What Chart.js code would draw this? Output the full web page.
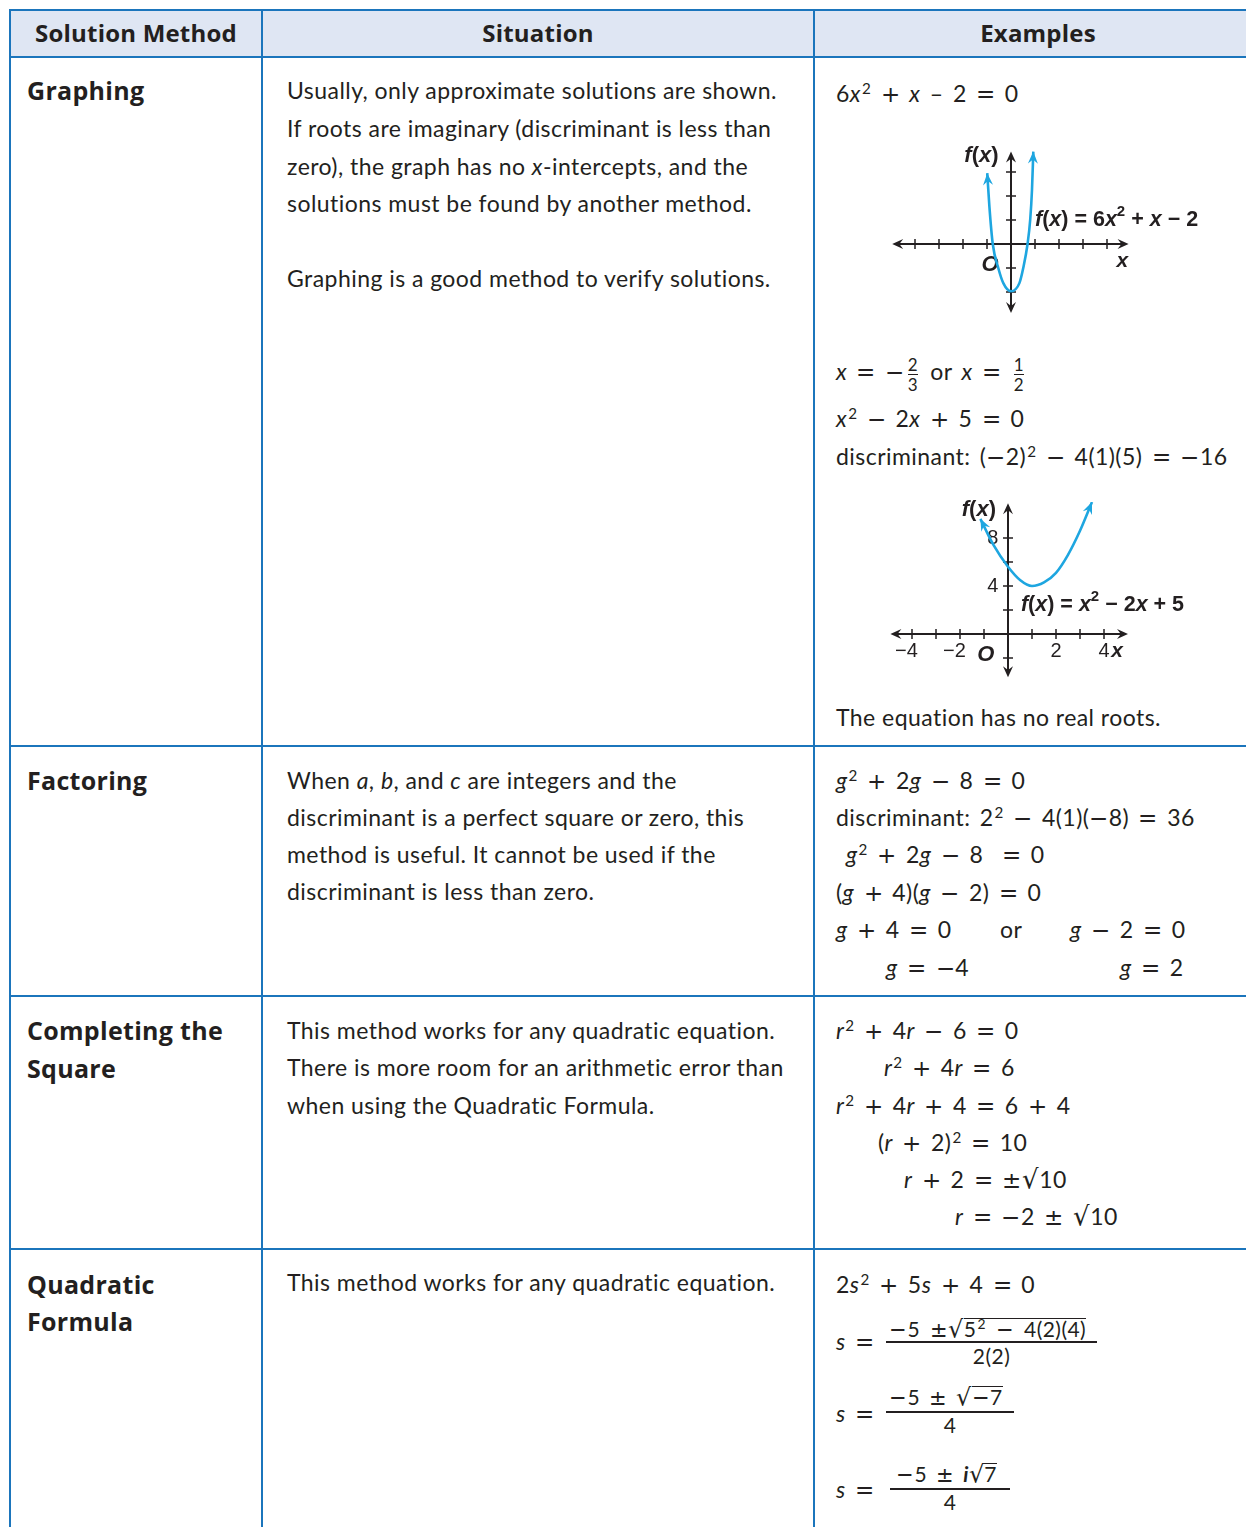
<!DOCTYPE html>
<html>
<head>
<meta charset="utf-8">
<script src="https://cdn.jsdelivr.net/npm/chart.js@4.4.1/dist/chart.umd.min.js"></script>
<style>
@font-face{font-family:'Ops';src:local('DejaVu Sans');unicode-range:U+2B,U+3D,U+2212,U+B1,U+221A;}
body{margin:0;width:1246px;height:1527px;overflow:hidden;background:#fff;position:relative;font-family:Ops,Lato,sans-serif;color:#231f20}
.hd{position:absolute;left:10px;top:10px;width:1236px;height:48px;background:#dfe6f3}
.v{position:absolute;top:9px;bottom:0;width:2px;background:#1b75bc}
.h{position:absolute;left:9px;width:1237px;height:2px;background:#1b75bc}
.t{position:absolute;white-space:nowrap;line-height:34px;font-size:23px;letter-spacing:0.45px}
.b{font-family:'Open Sans',sans-serif;font-weight:700;font-size:25px;letter-spacing:0.3px}
.th{font-family:'Open Sans',sans-serif;font-weight:700;font-size:24px;text-align:center;letter-spacing:0.2px}
.m{word-spacing:3px}
i{font-style:italic}
sup{font-size:0.66em;vertical-align:0;position:relative;top:-0.55em;margin-left:1px}
.fr{display:inline-flex;flex-direction:column;vertical-align:middle;font-size:17px;line-height:19px;text-align:center;margin:0 3px;word-spacing:0}
.fr span+span{border-top:1.5px solid #231f20}
.sq{font-size:1.12em;line-height:0}
.rad{display:inline-block;line-height:0.8em;border-top:1.5px solid #231f20;padding-top:2px}
.bar{position:absolute;height:1.5px;background:#231f20}
.gr{position:absolute}
</style>
</head>
<body>
<div class="hd"></div>
<div class="h" style="top:9px"></div>
<div class="h" style="top:56px"></div>
<div class="h" style="top:745px"></div>
<div class="h" style="top:995px"></div>
<div class="h" style="top:1248px"></div>
<div class="v" style="left:9px"></div>
<div class="v" style="left:261px"></div>
<div class="v" style="left:813px"></div>

<!-- header -->
<div class="t th" style="left:10px;width:252px;top:16px">Solution Method</div>
<div class="t th" style="left:262px;width:552px;top:16px">Situation</div>
<div class="t th" style="left:814px;width:448px;top:16px">Examples</div>

<!-- method names -->
<div class="t b" style="left:27px;top:73px">Graphing</div>
<div class="t b" style="left:27px;top:763px">Factoring</div>
<div class="t b" style="left:27px;top:1013px">Completing the</div>
<div class="t b" style="left:27px;top:1051px">Square</div>
<div class="t b" style="left:27px;top:1267px">Quadratic</div>
<div class="t b" style="left:27px;top:1304px">Formula</div>

<!-- situation -->
<div class="t" style="left:287px;top:73px">Usually, only approximate solutions are shown.</div>
<div class="t" style="left:287px;top:111px">If roots are imaginary (discriminant is less than</div>
<div class="t" style="left:287px;top:149px">zero), the graph has no <i>x</i>-intercepts, and the</div>
<div class="t" style="left:287px;top:186px">solutions must be found by another method.</div>
<div class="t" style="left:287px;top:261px">Graphing is a good method to verify solutions.</div>

<div class="t" style="left:287px;top:763px">When <i>a</i>, <i>b</i>, and <i>c</i> are integers and the</div>
<div class="t" style="left:287px;top:800px">discriminant is a perfect square or zero, this</div>
<div class="t" style="left:287px;top:837px">method is useful. It cannot be used if the</div>
<div class="t" style="left:287px;top:874px">discriminant is less than zero.</div>

<div class="t" style="left:287px;top:1013px">This method works for any quadratic equation.</div>
<div class="t" style="left:287px;top:1050px">There is more room for an arithmetic error than</div>
<div class="t" style="left:287px;top:1088px">when using the Quadratic Formula.</div>

<div class="t" style="left:287px;top:1265px">This method works for any quadratic equation.</div>

<!-- examples: graphing -->
<div class="t m" style="left:836px;top:76px">6<i>x</i><sup>2</sup> + <i>x</i> – 2 = 0</div>
<div class="gr" style="left:880px;top:140px;width:330px;height:190px"><canvas id="g1" width="330" height="190"></canvas></div>
<div class="t m" style="left:836px;top:354px"><i>x</i> = −<span class="fr"><span>2</span><span>3</span></span> or <i>x</i> = <span class="fr"><span>1</span><span>2</span></span></div>
<div class="t m" style="left:836px;top:401px"><i>x</i><sup>2</sup> − 2<i>x</i> + 5 = 0</div>
<div class="t m" style="left:836px;top:439px">discriminant: (−2)<sup>2</sup> − 4(1)(5) = −16</div>
<div class="gr" style="left:880px;top:490px;width:330px;height:200px"><canvas id="g2" width="330" height="200"></canvas></div>
<div class="t" style="left:836px;top:700px">The equation has no real roots.</div>

<!-- examples: factoring -->
<div class="t m" style="left:836px;top:763px"><i>g</i><sup>2</sup> + 2<i>g</i> − 8 = 0</div>
<div class="t m" style="left:836px;top:800px">discriminant: 2<sup>2</sup> − 4(1)(−8) = 36</div>
<div class="t m" style="left:846px;top:837px"><i>g</i><sup>2</sup> + 2<i>g</i> − 8 &nbsp;= 0</div>
<div class="t m" style="left:836px;top:875px">(<i>g</i> + 4)(<i>g</i> − 2) = 0</div>
<div class="t m" style="left:836px;top:912px"><i>g</i> + 4 = 0</div>
<div class="t" style="left:1000px;top:912px">or</div>
<div class="t m" style="left:1070px;top:912px"><i>g</i> − 2 = 0</div>
<div class="t m" style="left:886px;top:950px"><i>g</i> = −4</div>
<div class="t m" style="left:1120px;top:950px"><i>g</i> = 2</div>

<!-- examples: completing the square -->
<div class="t m" style="left:836px;top:1013px"><i>r</i><sup>2</sup> + 4<i>r</i> − 6 = 0</div>
<div class="t m" style="left:884px;top:1050px"><i>r</i><sup>2</sup> + 4<i>r</i> = 6</div>
<div class="t m" style="left:836px;top:1088px"><i>r</i><sup>2</sup> + 4<i>r</i> + 4 = 6 + 4</div>
<div class="t m" style="left:878px;top:1125px">(<i>r</i> + 2)<sup>2</sup> = 10</div>
<div class="t m" style="left:904px;top:1162px"><i>r</i> + 2 = ±<span class="sq">√</span>10</div>
<div class="t m" style="left:955px;top:1199px"><i>r</i> = −2 ± <span class="sq">√</span>10</div>

<!-- examples: quadratic formula -->
<div class="t m" style="left:836px;top:1267px">2<i>s</i><sup>2</sup> + 5<i>s</i> + 4 = 0</div>
<div class="t m" style="left:836px;top:1324px"><i>s</i> =</div>
<div class="t m" style="left:889px;top:1312px;font-size:21px;word-spacing:4px">−5 ±<span class="sq">√</span><span class="rad">5<sup>2</sup> − 4(2)(4)</span></div>
<div class="bar" style="left:886px;top:1341px;width:211px"></div>
<div class="t" style="left:886px;width:211px;text-align:center;top:1339px;font-size:21px">2(2)</div>

<div class="t m" style="left:836px;top:1396px"><i>s</i> =</div>
<div class="t m" style="left:889px;top:1380px;font-size:21px;word-spacing:3px">−5 ± <span class="sq">√</span><span class="rad">−7</span></div>
<div class="bar" style="left:886px;top:1411px;width:128px"></div>
<div class="t" style="left:886px;width:128px;text-align:center;top:1408px;font-size:21px">4</div>

<div class="t m" style="left:836px;top:1472px"><i>s</i> =</div>
<div class="t m" style="left:896px;top:1457px;font-size:21px;word-spacing:3px">−5 ± <b><i>i</i></b><span class="sq">√</span><span class="rad">7</span></div>
<div class="bar" style="left:890px;top:1488px;width:120px"></div>
<div class="t" style="left:890px;width:120px;text-align:center;top:1485px;font-size:21px">4</div>

<script>
// graph 1: f(x) = 6x^2 + x - 2
const g1X = [-0.99, -0.9, -0.76, -0.53, -0.32, 0, 0.35, 0.51, 0.69, 0.8, 0.875, 0.93];
const g1Y = [2.95, 1.56, 0, -1, -1.63, -1.97, -1.63, -1, 0, 1.01, 2.26, 3.85];
const g1XTicks = [-4, -3, -2, -1, 1, 2, 3, 4];
const g1YTicks = [-2, -1, 1, 2, 3];

// graph 2: f(x) = x^2 - 2x + 5
const g2X = [-1.15, -0.6, 0, 0.5, 1, 1.5, 2, 2.5, 3, 3.5];
const g2Y = [9.6, 7.4, 5.6, 4.5, 4.0, 4.3, 5.1, 6.6, 8.6, 11.0];
const g2XTicks = [-4, -3, -2, -1, 1, 2, 3, 4];
const g2YTicks = [-2, 2, 4, 6, 8];
const g2XLabels = [-4, -2, 2, 4];
const g2YLabels = [4, 8];

const INK = '#231f20';
const CURVE = '#1ea6e0';
const GFONT = '"Liberation Sans", Arial, sans-serif';

function arrowHead(ctx, x, y, ang, len = 11, half = 5) {
    ctx.save();
    ctx.translate(x, y);
    ctx.rotate(ang);
    ctx.beginPath();
    ctx.moveTo(0, 0);
    ctx.lineTo(-len, -half);
    ctx.lineTo(-len * 0.65, 0);
    ctx.lineTo(-len, half);
    ctx.closePath();
    ctx.fill();
    ctx.restore();
}

// segs: [text, italic, superscript]
function drawRich(ctx, segs, x, y, size, align, weight) {
    const font = s => `${s[1] ? 'italic ' : ''}${weight} ${s[2] ? Math.round(size * 0.68) : size}px ${GFONT}`;
    let w = 0;
    segs.forEach(s => { ctx.font = font(s); w += ctx.measureText(s[0]).width; });
    let cx = align === 'right' ? x - w : align === 'center' ? x - w / 2 : x;
    ctx.textBaseline = 'middle';
    ctx.textAlign = 'left';
    segs.forEach(s => {
        ctx.font = font(s);
        ctx.fillText(s[0], cx, s[2] ? y - size * 0.36 : y);
        cx += ctx.measureText(s[0]).width;
    });
}

// axes through the origin with arrows, tick marks and labels
const crossAxes = {
    id: 'crossAxes',
    beforeDatasetsDraw(chart, args, o) {
        const { ctx, scales: { x, y } } = chart;
        const x0 = x.getPixelForValue(0), y0 = y.getPixelForValue(0);
        const xa = x.getPixelForValue(o.xSpan[0]), xb = x.getPixelForValue(o.xSpan[1]);
        const ya = y.getPixelForValue(o.ySpan[0]), yb = y.getPixelForValue(o.ySpan[1]);
        ctx.save();
        ctx.strokeStyle = INK;
        ctx.fillStyle = INK;
        ctx.lineWidth = 2;
        ctx.beginPath();
        ctx.moveTo(xa + 5, y0); ctx.lineTo(xb - 5, y0);
        ctx.moveTo(x0, ya - 5); ctx.lineTo(x0, yb + 5);
        ctx.stroke();
        arrowHead(ctx, xa, y0, Math.PI);
        arrowHead(ctx, xb, y0, 0);
        arrowHead(ctx, x0, ya, Math.PI / 2);
        arrowHead(ctx, x0, yb, -Math.PI / 2);
        ctx.lineWidth = 1.5;
        ctx.beginPath();
        o.xTicks.forEach(v => { const p = x.getPixelForValue(v); ctx.moveTo(p, y0 - 5); ctx.lineTo(p, y0 + 5); });
        o.yTicks.forEach(v => { const p = y.getPixelForValue(v); ctx.moveTo(x0 - 5, p); ctx.lineTo(x0 + 5, p); });
        ctx.stroke();
        o.labels.forEach(l => drawRich(ctx, l.segs, x.getPixelForValue(l.at[0]), y.getPixelForValue(l.at[1]), l.size, l.align, l.weight || 700));
        ctx.restore();
    },
    afterDatasetsDraw(chart) {
        const pts = chart.getDatasetMeta(0).data;
        const { ctx } = chart;
        ctx.save();
        ctx.fillStyle = CURVE;
        const a = pts[0], b = pts[1];
        arrowHead(ctx, a.x, a.y, Math.atan2(a.y - b.y, a.x - b.x), 12, 5);
        const c = pts[pts.length - 1], d = pts[pts.length - 2];
        arrowHead(ctx, c.x, c.y, Math.atan2(c.y - d.y, c.x - d.x), 12, 5);
        ctx.restore();
    }
};

function makeGraph(id, xs, ys, xMin, xMax, yMin, yMax, padding, axisOpts) {
    return new Chart(document.getElementById(id), {
        type: 'line',
        data: {
            datasets: [{
                data: xs.map((v, i) => ({ x: v, y: ys[i] })),
                borderColor: CURVE,
                borderWidth: 2.6,
                pointRadius: 0,
                cubicInterpolationMode: 'monotone',
                fill: false
            }]
        },
        options: {
            responsive: false,
            animation: false,
            layout: { padding },
            scales: {
                x: { type: 'linear', min: xMin, max: xMax, display: false },
                y: { type: 'linear', min: yMin, max: yMax, display: false }
            },
            plugins: {
                legend: { display: false },
                tooltip: { enabled: false },
                crossAxes: axisOpts
            }
        },
        plugins: [crossAxes]
    });
}

const tickText = v => (v < 0 ? '−' + Math.abs(v) : String(v));

makeGraph('g1', g1X, g1Y, -5, 5, -3, 4, { left: 11, right: 79, top: 8, bottom: 14 }, {
    xSpan: [-4.95, 4.9], ySpan: [-2.88, 3.85],
    xTicks: g1XTicks, yTicks: g1YTicks,
    labels: [
        { at: [-0.52, 3.67], align: 'right', size: 22, segs: [['f', 1], ['(', 0], ['x', 1], [')', 0]] },
        { at: [-0.52, -0.86], align: 'right', size: 22, segs: [['O', 1]] },
        { at: [4.4, -0.72], align: 'left', size: 21, segs: [['x', 1]] },
        { at: [1.0, 1.0], align: 'left', size: 21.5, segs: [['f', 1], ['(', 0], ['x', 1], [') = 6', 0], ['x', 1], ['2', 0, 1], [' + ', 0], ['x', 1], [' − 2', 0]] }
    ]
});

makeGraph('g2', g2X, g2Y, -5, 5, -4, 11, { left: 8, right: 82, top: 12, bottom: 8 }, {
    xSpan: [-4.9, 5.0], ySpan: [-3.6, 10.9],
    xTicks: g2XTicks, yTicks: g2YTicks,
    labels: [
        { at: [-0.5, 10.35], align: 'right', size: 22, segs: [['f', 1], ['(', 0], ['x', 1], [')', 0]] },
        { at: [-0.92, -1.78], align: 'center', size: 22, segs: [['O', 1]] },
        { at: [4.3, -1.42], align: 'left', size: 21, segs: [['x', 1]] },
        { at: [0.54, 2.42], align: 'left', size: 21.5, segs: [['f', 1], ['(', 0], ['x', 1], [') = ', 0], ['x', 1], ['2', 0, 1], [' − 2', 0], ['x', 1], [' + 5', 0]] }
    ].concat(
        g2XLabels.map(v => ({ at: [v < 0 ? v + 0.24 : v, -1.42], align: v < 0 ? 'right' : 'center', size: 20, weight: 400, segs: [[tickText(v), 0]] })),
        g2YLabels.map(v => ({ at: [-0.4, v], align: 'right', size: 20, weight: 400, segs: [[tickText(v), 0]] }))
    )
});
</script>
</body>
</html>
